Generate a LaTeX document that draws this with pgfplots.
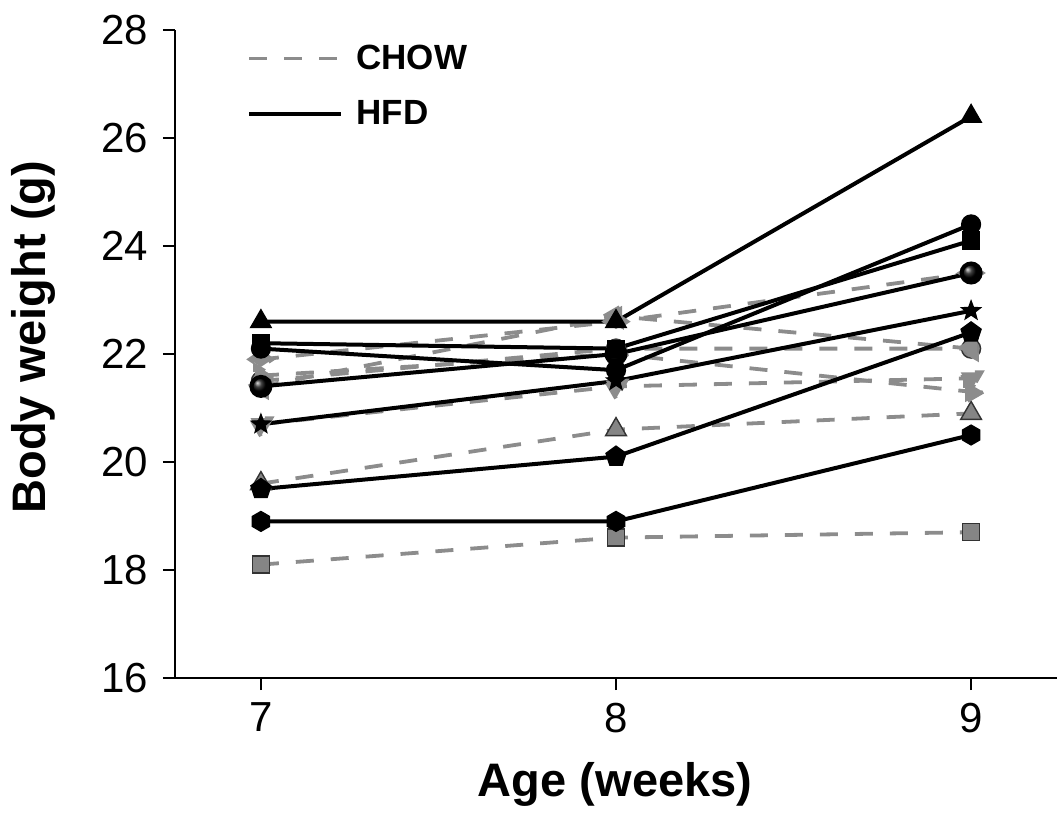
\documentclass[border=0pt]{standalone}
\usepackage{fontspec}
\setmainfont{Liberation Sans}
\usepackage{pgfplots}
\pgfplotsset{compat=1.18}
\usetikzlibrary{plotmarks}

% pointy-top filled hexagon
\pgfdeclareplotmark{hexagon*}{%
  \pgfpathmoveto{\pgfqpointpolar{90}{\pgfplotmarksize}}%
  \pgfpathlineto{\pgfqpointpolar{150}{\pgfplotmarksize}}%
  \pgfpathlineto{\pgfqpointpolar{210}{\pgfplotmarksize}}%
  \pgfpathlineto{\pgfqpointpolar{270}{\pgfplotmarksize}}%
  \pgfpathlineto{\pgfqpointpolar{330}{\pgfplotmarksize}}%
  \pgfpathlineto{\pgfqpointpolar{30}{\pgfplotmarksize}}%
  \pgfpathclose\pgfusepathqfillstroke}

% filled five-point star
\pgfdeclareplotmark{star5*}{%
  \pgfpathmoveto{\pgfqpointpolar{90}{\pgfplotmarksize}}%
  \pgfpathlineto{\pgfqpointpolar{126}{0.42\pgfplotmarksize}}%
  \pgfpathlineto{\pgfqpointpolar{162}{\pgfplotmarksize}}%
  \pgfpathlineto{\pgfqpointpolar{198}{0.42\pgfplotmarksize}}%
  \pgfpathlineto{\pgfqpointpolar{234}{\pgfplotmarksize}}%
  \pgfpathlineto{\pgfqpointpolar{270}{0.42\pgfplotmarksize}}%
  \pgfpathlineto{\pgfqpointpolar{306}{\pgfplotmarksize}}%
  \pgfpathlineto{\pgfqpointpolar{342}{0.42\pgfplotmarksize}}%
  \pgfpathlineto{\pgfqpointpolar{18}{\pgfplotmarksize}}%
  \pgfpathlineto{\pgfqpointpolar{54}{0.42\pgfplotmarksize}}%
  \pgfpathclose\pgfusepathqfillstroke}

\pgfplotsset{
  chow/.style={color=black!45, line width=1.9pt, dash pattern=on 9pt off 8.5pt,
    mark options={solid, fill=black!48, draw=black!80, line width=0.7pt}},
  hfd/.style={color=black, line width=2pt,
    mark options={solid, fill=black, draw=black, line width=0.6pt}},
}

\begin{document}
\begin{tikzpicture}
\useasboundingbox (0pt,0pt) rectangle (529pt,407.5pt);
\begin{axis}[
  at={(87.5pt,68.5pt)}, anchor=south west,
  scale only axis, width=441pt, height=324pt,
  xmin=6.758, xmax=9.242, ymin=16, ymax=28,
  axis x line=bottom, axis y line=left,
  axis line style={-, line width=1.2pt},
  xtick={7,8,9}, ytick={16,18,...,28},
  tick align=outside, major tick length=6pt,
  tick style={line width=1.2pt, black},
  ticklabel style={font=\fontsize{21}{25}\selectfont},
  xticklabel style={yshift=-3pt},
  yticklabel style={xshift=-4pt},
  /pgf/number format/assume math mode=true,
  xlabel={Age (weeks)}, ylabel={Body weight (g)},
  label style={font=\fontsize{23.5}{28}\selectfont\bfseries},
  xlabel style={at={(axis description cs:0.499,-0.164)}, anchor=center},
  ylabel style={at={(axis description cs:-0.161,0.526)}, anchor=center},
  legend image code/.code={\draw[#1] (0pt,0pt) -- (46pt,0pt);},
  legend style={at={(rel axis cs:0.0816,0.984)}, anchor=north west,
    draw=none, fill=none, inner sep=0pt, row sep=10pt,
    font=\fontsize{17.5}{20}\selectfont\bfseries,
    cells={anchor=west},
    nodes={inner xsep=6.5pt}},
  clip=false,
]
\addlegendimage{chow}
\addlegendentry{CHOW}
\addlegendimage{hfd}
\addlegendentry{HFD}

% CHOW
\addplot[chow, mark=square*, mark size=4.25pt] coordinates {(7,18.1) (8,18.6) (9,18.7)};
\addplot[chow, mark=triangle*, mark size=6pt] coordinates {(7,19.6) (8,20.6) (9,20.9)};
\addplot[chow, mark=triangle*, mark size=6pt, mark options={rotate=180}] coordinates {(7,20.7) (8,21.4) (9,21.55)};
\addplot[chow, mark=diamond*, mark size=5pt, mark options={xscale=1.5,yscale=0.75}] coordinates {(7,21.9) (8,22.6) (9,23.5)};
\addplot[chow, mark=*, mark size=4.75pt] coordinates {(7,21.5) (8,22.1) (9,22.1)};
\addplot[chow, mark=triangle*, mark size=6pt, mark options={rotate=90}] coordinates {(7,21.4) (8,22.7) (9,22.1)};
\addplot[chow, mark=triangle*, mark size=6pt, mark options={rotate=-90}] coordinates {(7,21.6) (8,22.0) (9,21.3)};

% HFD
\addplot[hfd, mark=hexagon*, mark size=5pt] coordinates {(7,18.9) (8,18.9) (9,20.5)};
\addplot[hfd, mark=pentagon*, mark size=5.3pt] coordinates {(7,19.5) (8,20.1) (9,22.4)};
\addplot[hfd, mark=star5*, mark size=5pt] coordinates {(7,20.7) (8,21.5) (9,22.8)};
\addplot[hfd, mark=ball, mark size=4.75pt, mark options={ball color=black}] coordinates {(7,21.4) (8,22.0) (9,23.5)};
\addplot[hfd, mark=*, mark size=4.75pt] coordinates {(7,22.1) (8,21.7) (9,24.4)};
\addplot[hfd, mark=square*, mark size=4.25pt] coordinates {(7,22.2) (8,22.1) (9,24.1)};
\addplot[hfd, mark=triangle*, mark size=6pt] coordinates {(7,22.6) (8,22.6) (9,26.4)};
\end{axis}
\end{tikzpicture}
\end{document}
